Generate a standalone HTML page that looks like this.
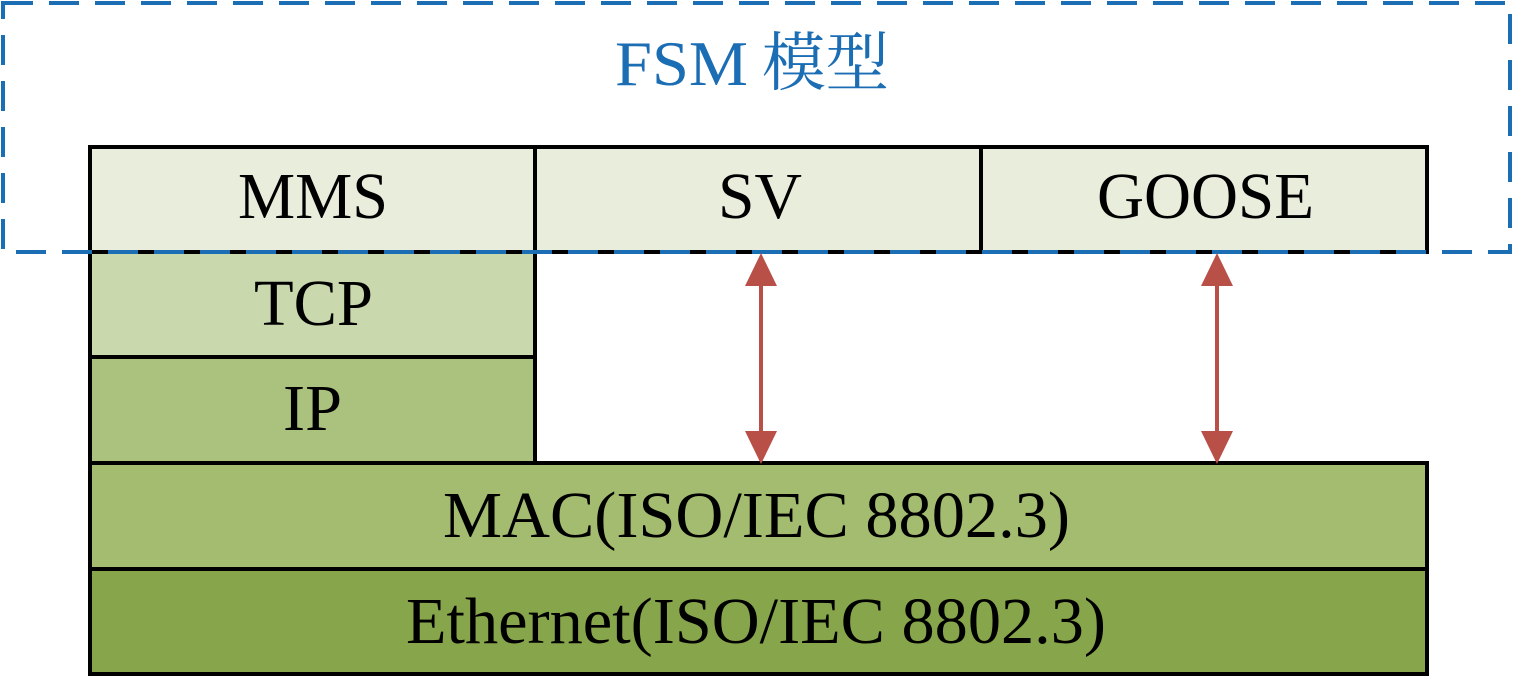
<!DOCTYPE html>
<html><head><meta charset="utf-8"><style>
html,body{margin:0;padding:0;background:#fff;width:1513px;height:677px;overflow:hidden}
svg{display:block}
text{font-family:"Liberation Serif","Noto Serif CJK SC",serif;fill:#000}
</style></head><body>
<svg width="1513" height="677" viewBox="0 0 1513 677" xmlns="http://www.w3.org/2000/svg">
<g stroke="#000" stroke-width="4">
<rect x="90" y="147" width="445" height="105" fill="#e9eddc"/>
<rect x="535" y="147" width="446" height="105" fill="#e9eddc"/>
<rect x="981" y="147" width="446" height="105" fill="#e9eddc"/>
<rect x="90" y="252" width="445" height="105" fill="#c9d8ad"/>
<rect x="90" y="357" width="445" height="106" fill="#abc27e"/>
<rect x="90" y="463" width="1337" height="106" fill="#a4bc70"/>
<rect x="90" y="569" width="1337" height="105" fill="#87a54a"/>
</g>
<rect x="3" y="3" width="1507" height="249" fill="none" stroke="#1b6db4" stroke-width="4" stroke-dasharray="30 16"/>
<g stroke="#b85048" stroke-width="4" fill="#b85048">
<line x1="761" y1="280" x2="761" y2="435"/>
<line x1="1217" y1="280" x2="1217" y2="435"/>
<polygon points="761,253 745,286 777,286" stroke="none"/>
<polygon points="761,464 745,431 777,431" stroke="none"/>
<polygon points="1217,253 1201,286 1233,286" stroke="none"/>
<polygon points="1217,464 1201,431 1233,431" stroke="none"/>
</g>
<text x="615" y="85" font-size="64" style="fill:#1b6db4" textLength="133" lengthAdjust="spacingAndGlyphs">FSM</text>
<text x="762" y="85" font-size="64" style="fill:#1b6db4" textLength="127" lengthAdjust="spacingAndGlyphs">模型</text>
<text x="238" y="218" font-size="66" textLength="150" lengthAdjust="spacingAndGlyphs">MMS</text>
<text x="718" y="218" font-size="66" textLength="84" lengthAdjust="spacingAndGlyphs">SV</text>
<text x="1097" y="218" font-size="66" textLength="217" lengthAdjust="spacingAndGlyphs">GOOSE</text>
<text x="254" y="325" font-size="66" textLength="119" lengthAdjust="spacingAndGlyphs">TCP</text>
<text x="283" y="430" font-size="66" textLength="59" lengthAdjust="spacingAndGlyphs">IP</text>
<text x="443" y="537" font-size="66" textLength="627" lengthAdjust="spacingAndGlyphs">MAC(ISO/IEC 8802.3)</text>
<text x="406" y="643" font-size="66" textLength="700" lengthAdjust="spacingAndGlyphs">Ethernet(ISO/IEC 8802.3)</text>
</svg>
</body></html>
